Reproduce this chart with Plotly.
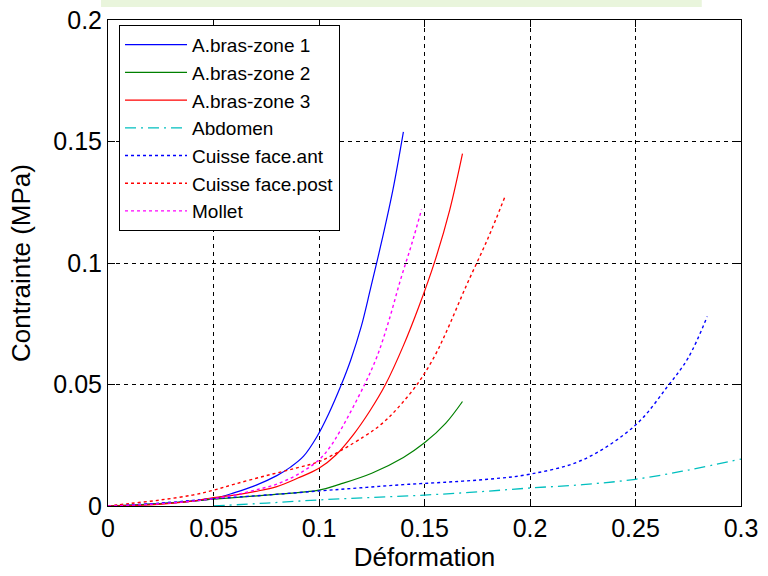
import plotly.graph_objects as go

# ---- data ----
x_bras1 = [0, 0.02, 0.04, 0.05, 0.06, 0.07, 0.08, 0.0865, 0.0927, 0.099, 0.1046, 0.1106, 0.115, 0.12, 0.1243, 0.13, 0.135, 0.14]
y_bras1 = [0, 0.0008, 0.002, 0.003, 0.0055, 0.0085, 0.0125, 0.016, 0.0205, 0.0285, 0.038, 0.050, 0.060, 0.0738, 0.089, 0.110, 0.130, 0.154]

x_bras2 = [0, 0.025, 0.05, 0.075, 0.10, 0.11, 0.125, 0.14, 0.15, 0.16, 0.168]
y_bras2 = [0, 0.001, 0.0028, 0.0045, 0.0065, 0.009, 0.0135, 0.020, 0.026, 0.034, 0.043]

x_bras3 = [0, 0.02, 0.04, 0.05, 0.06, 0.07, 0.08, 0.09, 0.10, 0.108, 0.1164, 0.124, 0.1315, 0.140, 0.1473, 0.155, 0.162, 0.168]
y_bras3 = [0, 0.0005, 0.002, 0.0035, 0.0045, 0.006, 0.008, 0.0115, 0.0155, 0.021, 0.0295, 0.039, 0.050, 0.066, 0.082, 0.101, 0.122, 0.145]

x_abdo = [0.05, 0.075, 0.10, 0.125, 0.15, 0.175, 0.20, 0.225, 0.25, 0.275, 0.30]
y_abdo = [0, 0.0012, 0.0025, 0.0035, 0.0045, 0.0058, 0.0074, 0.0088, 0.011, 0.0148, 0.0193]

x_cant = [0, 0.025, 0.05, 0.075, 0.10, 0.12, 0.14, 0.16, 0.18, 0.20, 0.225, 0.25, 0.265, 0.275, 0.284]
y_cant = [0, 0.0012, 0.003, 0.0045, 0.0062, 0.0075, 0.0088, 0.0098, 0.011, 0.0131, 0.019, 0.0333, 0.049, 0.061, 0.078]

x_cpost = [0, 0.01, 0.025, 0.04, 0.05, 0.06, 0.075, 0.09, 0.1006, 0.1212, 0.13, 0.137, 0.1473, 0.155, 0.16, 0.17, 0.18, 0.188]
y_cpost = [0, 0.001, 0.0025, 0.0045, 0.0065, 0.009, 0.0125, 0.0158, 0.0185, 0.0285, 0.034, 0.040, 0.051, 0.062, 0.071, 0.091, 0.110, 0.127]

x_mollet = [0, 0.02, 0.04, 0.05, 0.06, 0.07, 0.08, 0.09, 0.10, 0.105, 0.1101, 0.1216, 0.1275, 0.1332, 0.1386, 0.144, 0.1486]
y_mollet = [0, 0.0007, 0.002, 0.003, 0.0045, 0.0066, 0.009, 0.013, 0.019, 0.024, 0.031, 0.050, 0.0615, 0.0765, 0.093, 0.108, 0.122]

x_ticks = [0, 0.05, 0.1, 0.15, 0.2, 0.25, 0.3]
y_ticks = [0, 0.05, 0.1, 0.15, 0.2]

series = [
    ("A.bras-zone 1", x_bras1, y_bras1, "rgb(0,0,255)", "solid", 1.2),
    ("A.bras-zone 2", x_bras2, y_bras2, "rgb(0,128,0)", "solid", 1.2),
    ("A.bras-zone 3", x_bras3, y_bras3, "rgb(255,0,0)", "solid", 1.2),
    ("Abdomen", x_abdo, y_abdo, "rgb(0,191,191)", "11px,5px,2px,5px", 1.3),
    ("Cuisse face.ant", x_cant, y_cant, "rgb(0,0,255)", "3px,3px", 1.4),
    ("Cuisse face.post", x_cpost, y_cpost, "rgb(255,0,0)", "3px,3px", 1.4),
    ("Mollet", x_mollet, y_mollet, "rgb(255,0,255)", "3px,3px", 1.4),
]

FONT = "Liberation Sans, Arial, sans-serif"

fig = go.Figure()
for i, (name, xs, ys, col, dash, w) in enumerate(series):
    fig.add_trace(go.Scatter(
        x=xs, y=ys, mode="lines", name=name,
        line=dict(color=col, width=w, dash=dash, shape="spline", smoothing=1.0),
        legendgroup=f"g{i}",
    ))

axis_common = dict(
    showline=True, linecolor="black", linewidth=1, mirror="ticks",
    ticks="inside", ticklen=7, tickcolor="black",
    showgrid=True, gridcolor="black", gridwidth=1, griddash="4px,4px",
    zeroline=False, automargin=False,
    tickfont=dict(family=FONT, size=25, color="black"),
)

fig.update_xaxes(
    range=[0, 0.3], tickvals=x_ticks, ticktext=[f"{v:g}" for v in x_ticks],
    title=dict(text="Déformation", font=dict(family=FONT, size=26, color="black"), standoff=6),
    **axis_common,
)
fig.update_yaxes(
    range=[0, 0.2], tickvals=y_ticks, ticktext=[f"{v:g}" for v in y_ticks],
    title=dict(text="Contrainte (MPa)", font=dict(family=FONT, size=26, color="black"), standoff=15),
    **axis_common,
)

fig.update_layout(
    width=768, height=576,
    margin=dict(l=108, r=27, t=20, b=70, autoexpand=False),
    paper_bgcolor="white", plot_bgcolor="white",
    font=dict(family=FONT, color="black"),
    legend=dict(
        x=0.0174, y=0.99, xanchor="left", yanchor="top",
        bgcolor="white", bordercolor="black", borderwidth=1,
        font=dict(family=FONT, size=19, color="black"),
        tracegroupgap=0, itemwidth=62,
    ),
    shapes=[dict(
        type="rect", xref="paper", yref="paper",
        x0=-0.011, x1=0.938, y0=1.0267, y1=1.045,
        fillcolor="#e9f5dc", line=dict(width=0), layer="below",
    )],
)

fig.write_html("out.html")
